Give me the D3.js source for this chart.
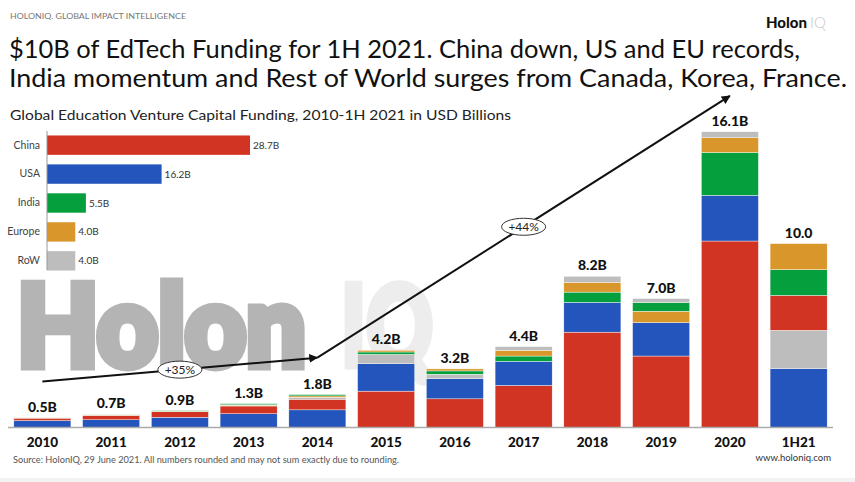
<!DOCTYPE html>
<html>
<head>
<meta charset="utf-8">
<script src="https://cdn.jsdelivr.net/npm/d3@7/dist/d3.min.js"></script>
<style>
  html, body { margin: 0; padding: 0; background: #fff; }
  svg { display: block; }
</style>
</head>
<body>
<svg id="chart" width="855" height="482"></svg>
<script>
// ---------- DATA ----------
const years = ["2010","2011","2012","2013","2014","2015","2016","2017","2018","2019","2020","1H21"];
const totalLabels = ["0.5B","0.7B","0.9B","1.3B","1.8B","4.2B","3.2B","4.4B","8.2B","7.0B","16.1B","10.0"];
const china  = [0.13,0.24,0.31,0.42,0.58,1.98,1.56,2.29,5.19,3.89,10.15,1.90];
const usa    = [0.38,0.42,0.56,0.75,0.96,1.49,1.09,1.31,1.62,1.82,2.49,3.20];
const india  = [0.01,0.02,0.03,0.06,0.07,0.13,0.18,0.29,0.56,0.47,2.33,1.40];
const europe = [0.01,0.02,0.01,0.03,0.07,0.09,0.11,0.31,0.53,0.62,0.80,1.42];
const row    = [0.00,0.01,0.01,0.04,0.11,0.51,0.25,0.20,0.33,0.22,0.33,2.09];
// stacking order per year, bottom to top
const stackOrder = [
  ["USA","China","RoW","Europe","India"],
  ["USA","China","RoW","Europe","India"],
  ["USA","China","RoW","Europe","India"],
  ["USA","China","RoW","Europe","India"],
  ["USA","China","RoW","Europe","India"],
  ["China","USA","RoW","India","Europe"],
  ["China","USA","RoW","India","Europe"],
  ["China","USA","India","Europe","RoW"],
  ["China","USA","India","Europe","RoW"],
  ["China","USA","Europe","India","RoW"],
  ["China","USA","India","Europe","RoW"],
  ["USA","RoW","China","India","Europe"]
];
const regions = ["China","USA","India","Europe","RoW"];
const regionTotals = [28.7,16.2,5.5,4.0,4.0];
const regionLabels = ["28.7B","16.2B","5.5B","4.0B","4.0B"];
// growth annotations: [year, level]
const trendPoints = [["2010",2.5],["2014",3.8],["2020",18.05]];
const trendLabels = ["+35%","+44%"];

// ---------- STYLE ----------
const colors = {China:"#d13422", USA:"#2455bc", India:"#05a03d", Europe:"#d9972b", RoW:"#bdbdbd"};
const seriesValues = {China:china, USA:usa, India:india, Europe:europe, RoW:row};
const FONT = "Lato, 'Open Sans', sans-serif";

const svg = d3.select("#chart");

// footer band
svg.append("rect").attr("x",0).attr("y",478).attr("width",855).attr("height",4).attr("fill","#f2f2f2");

// header texts
svg.append("text").attr("x",10).attr("y",19).attr("font-family",FONT).attr("font-size",8)
  .attr("fill","#777").attr("textLength",176).attr("lengthAdjust","spacingAndGlyphs")
  .text("HOLONIQ. GLOBAL IMPACT INTELLIGENCE");

const logo = svg.append("text").attr("x",766).attr("y",28).attr("font-family",FONT).attr("font-size",15);
logo.append("tspan").attr("font-weight",900).attr("fill","#111").text("Holon");
logo.append("tspan").attr("dx",3).attr("font-weight",300).attr("fill","#c8c8c8").text("IQ");

svg.append("text").attr("x",9).attr("y",58).attr("font-family",FONT).attr("font-size",25.5)
  .attr("fill","#111").attr("textLength",791).attr("lengthAdjust","spacingAndGlyphs")
  .text("$10B of EdTech Funding for 1H 2021. China down, US and EU records,");
svg.append("text").attr("x",9).attr("y",87).attr("font-family",FONT).attr("font-size",25.5)
  .attr("fill","#111").attr("textLength",838).attr("lengthAdjust","spacingAndGlyphs")
  .text("India momentum and Rest of World surges from Canada, Korea, France.");
svg.append("text").attr("x",10).attr("y",120).attr("font-family",FONT).attr("font-size",14)
  .attr("fill","#222").attr("textLength",501).attr("lengthAdjust","spacingAndGlyphs")
  .text("Global Education Venture Capital Funding, 2010-1H 2021 in USD Billions");

// watermark (stroke thickens the glyphs)
svg.append("text").attr("x",17).attr("y",366).attr("font-family",FONT)
  .attr("font-weight",900).attr("font-size",112).attr("fill","#b4b4b4")
  .attr("stroke","#b4b4b4").attr("stroke-width",9).attr("stroke-linejoin","miter")
  .attr("textLength",289).attr("lengthAdjust","spacingAndGlyphs").text("Holon");
svg.append("text").attr("x",341).attr("y",366).attr("font-family",FONT)
  .attr("font-weight",900).attr("font-size",112).attr("fill","#ededed")
  .attr("stroke","#ededed").attr("stroke-width",7).attr("stroke-linejoin","miter")
  .attr("textLength",92).attr("lengthAdjust","spacingAndGlyphs").text("IQ");

// ---------- MAIN STACKED BARS ----------
const x = d3.scaleBand().domain(years).range([8, 833]).paddingInner(0.17).paddingOuter(0.085);
const y = d3.scaleLinear().domain([0, 16.1]).range([427.5, 131.7]);

const segs = [];
years.forEach((yr, i) => {
  let base = 0;
  stackOrder[i].forEach(key => {
    const v = seriesValues[key][i];
    segs.push({year: yr, key, y0: base, y1: base + v});
    base += v;
  });
});
const totals = years.map((yr, i) => d3.sum(regions, k => seriesValues[k][i]));

svg.append("g").selectAll("rect").data(segs).join("rect")
  .attr("x", d => x(d.year))
  .attr("width", x.bandwidth())
  .attr("y", d => y(d.y1))
  .attr("height", d => Math.max(0, y(d.y0) - y(d.y1)))
  .attr("fill", d => colors[d.key])
  .attr("stroke", "#fff").attr("stroke-width", 0.4);

svg.append("g").selectAll("text").data(years).join("text")
  .attr("x", d => x(d) + x.bandwidth()/2)
  .attr("y", (d, i) => y(totals[i]) - 6)
  .attr("text-anchor","middle").attr("font-family",FONT).attr("font-weight",900)
  .attr("font-size",14).attr("fill","#111")
  .text((d, i) => totalLabels[i]);

// x axis
const xAxis = svg.append("g").attr("transform","translate(0,427.5)")
  .call(d3.axisBottom(x).tickSize(0).tickPadding(10));
xAxis.select(".domain").attr("stroke","#aaa").attr("stroke-width",1.5).attr("d","M8,0H833");
xAxis.selectAll("text").attr("font-family",FONT).attr("font-weight",900).attr("font-size",13.5).attr("fill","#111");

// ---------- TREND ARROWS ----------
const defs = svg.append("defs");
defs.append("marker").attr("id","arr").attr("viewBox","0 0 10 10").attr("refX",9).attr("refY",5)
  .attr("markerWidth",4.5).attr("markerHeight",4.5).attr("orient","auto")
  .append("path").attr("d","M0,0L10,5L0,10z").attr("fill","#111");

const pts = trendPoints.map(p => [x(p[0]) + x.bandwidth()/2, y(p[1])]);
for (let i = 0; i < pts.length - 1; i++) {
  svg.append("line").attr("x1",pts[i][0]).attr("y1",pts[i][1]).attr("x2",pts[i+1][0]).attr("y2",pts[i+1][1])
    .attr("stroke","#111").attr("stroke-width",2).attr("marker-end","url(#arr)");
}
for (let i = 0; i < pts.length - 1; i++) {
  const cx = (pts[i][0] + pts[i+1][0]) / 2, cy = (pts[i][1] + pts[i+1][1]) / 2;
  svg.append("ellipse").attr("cx",cx).attr("cy",cy).attr("rx",22).attr("ry",8.5)
    .attr("fill","#fff").attr("stroke","#333").attr("stroke-width",1);
  svg.append("text").attr("x",cx).attr("y",cy+4.2).attr("text-anchor","middle")
    .attr("font-family",FONT).attr("font-size",12).attr("fill","#222").text(trendLabels[i]);
}

// ---------- INSET BAR CHART ----------
const xi = d3.scaleLinear().domain([0, 28.7]).range([47, 250]);
const yi = d3.scaleBand().domain(regions).range([132, 274]).paddingInner(0.33).paddingOuter(0.12);

svg.append("g").selectAll("rect").data(regions).join("rect")
  .attr("x", xi(0)).attr("y", d => yi(d))
  .attr("width", (d, i) => xi(regionTotals[i]) - xi(0))
  .attr("height", yi.bandwidth())
  .attr("fill", d => colors[d]);

svg.append("g").selectAll("text").data(regions).join("text")
  .attr("x", (d, i) => xi(regionTotals[i]) + 3)
  .attr("y", d => yi(d) + yi.bandwidth()/2 + 3.5)
  .attr("font-family",FONT).attr("font-size",10).attr("fill","#333")
  .text((d, i) => regionLabels[i]);

const yAxisI = svg.append("g").attr("transform","translate(47,0)")
  .call(d3.axisLeft(yi).tickSize(0).tickPadding(7));
yAxisI.select(".domain").attr("stroke","#999").attr("stroke-width",1).attr("d","M0,131V270");
yAxisI.selectAll("text").attr("font-family",FONT).attr("font-size",10.5).attr("fill","#444");

// ---------- FOOTER ----------
svg.append("text").attr("x",13).attr("y",463).attr("font-family",FONT).attr("font-size",9)
  .attr("fill","#555").attr("textLength",386).attr("lengthAdjust","spacingAndGlyphs")
  .text("Source: HolonIQ, 29 June 2021. All numbers rounded and may not sum exactly due to rounding.");
svg.append("text").attr("x",831).attr("y",461).attr("text-anchor","end").attr("font-family",FONT)
  .attr("font-size",9.5).attr("fill","#333").text("www.holoniq.com");
</script>
</body>
</html>
